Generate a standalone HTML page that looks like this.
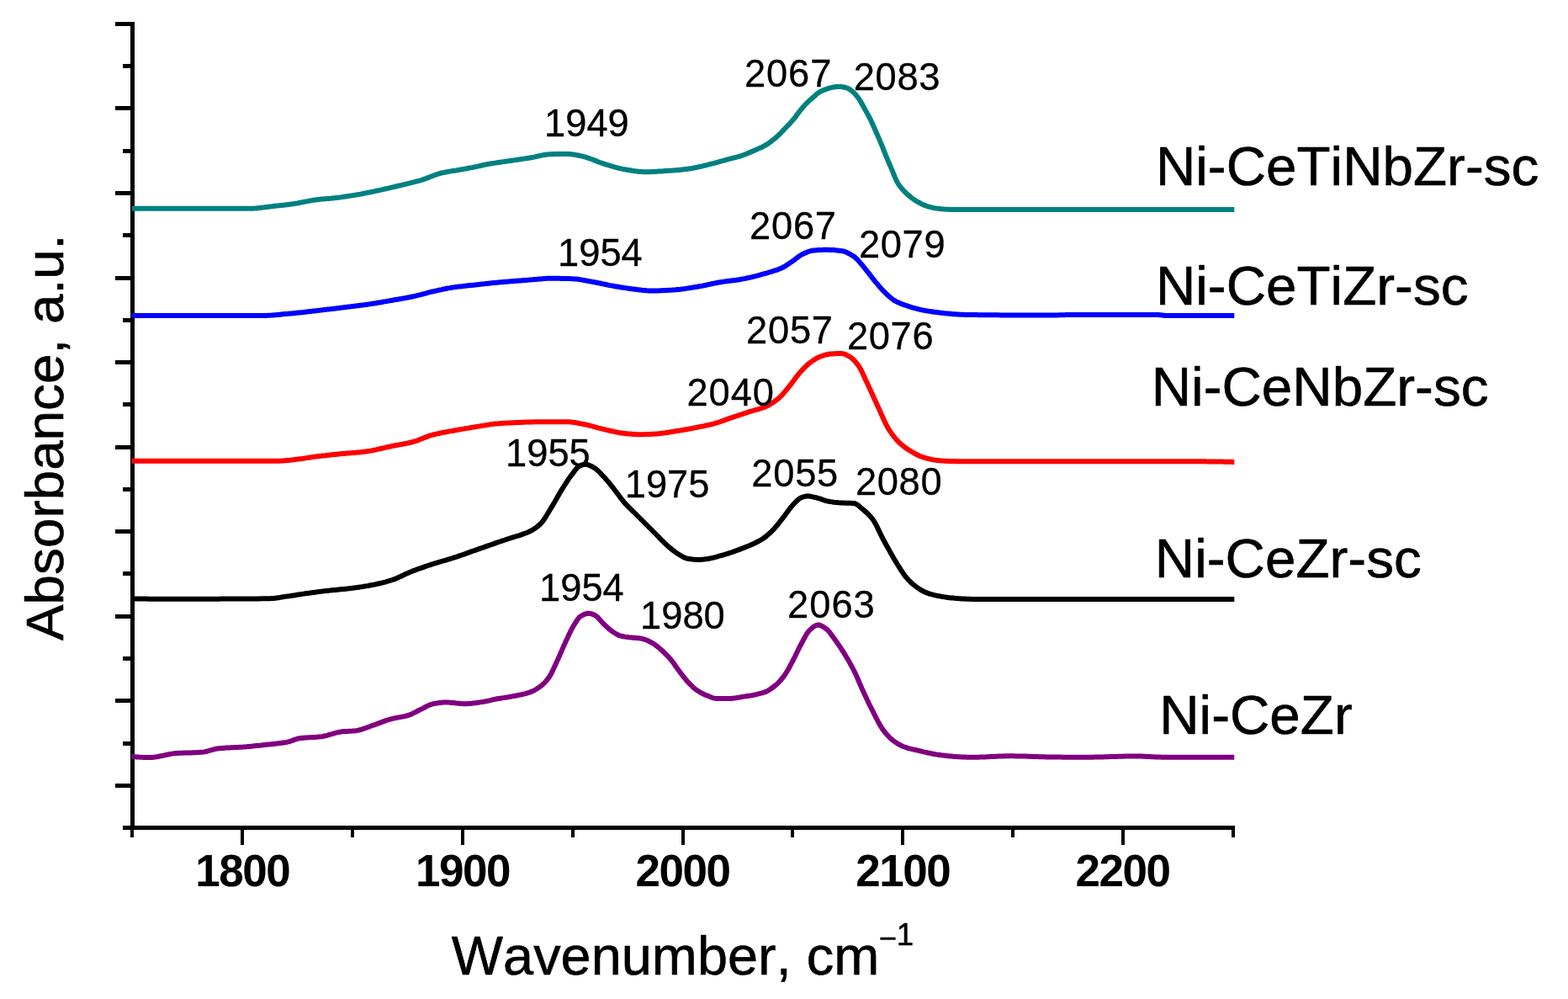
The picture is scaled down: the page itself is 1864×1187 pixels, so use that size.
<!DOCTYPE html>
<html lang="en">
<head>
<meta charset="utf-8">
<title>IR spectra</title>
<style>
html,body{margin:0;padding:0;background:#ffffff;}
body{width:1864px;height:1187px;overflow:hidden;}
svg{display:block;}
text{font-family:"Liberation Sans",sans-serif;fill:#000;font-kerning:none;}
.tick{font-weight:bold;font-size:53px;text-anchor:middle;letter-spacing:-1.5px;}
.pk{font-size:45.3px;stroke:#000;stroke-width:0.3px;stroke-linejoin:round;}
.lab{font-size:65.6px;letter-spacing:0px;stroke:#000;stroke-width:0.6px;stroke-linejoin:round;}
.ttl{font-size:64.9px;stroke:#000;stroke-width:0.6px;stroke-linejoin:round;}
.sup{font-size:36px;letter-spacing:0;}
.curve{fill:none;stroke-width:6;stroke-linejoin:round;stroke-linecap:butt;}
.ax{stroke:#000;stroke-width:5;fill:none;stroke-linecap:butt;}
</style>
</head>
<body>
<svg width="1864" height="1187" viewBox="0 0 1864 1187">
<rect x="0" y="0" width="1864" height="1187" fill="#ffffff"/>
<g class="ax" shape-rendering="crispEdges">
<path d="M157.5 25.8 V986.0"/>
<path d="M155.0 983.5 H1468"/>
<path d="M157.5 28.3 H137"/>
<path d="M157.5 128.5 H137"/>
<path d="M157.5 229.3 H137"/>
<path d="M157.5 330 H137"/>
<path d="M157.5 430.3 H137"/>
<path d="M157.5 531 H137"/>
<path d="M157.5 631.8 H137"/>
<path d="M157.5 732.5 H137"/>
<path d="M157.5 832 H137"/>
<path d="M157.5 933.25 H137"/>
<path d="M157.5 78.3 H145.6"/>
<path d="M157.5 179 H145.6"/>
<path d="M157.5 279.3 H145.6"/>
<path d="M157.5 380.3 H145.6"/>
<path d="M157.5 480.5 H145.6"/>
<path d="M157.5 581.3 H145.6"/>
<path d="M157.5 681.5 H145.6"/>
<path d="M157.5 782.2 H145.6"/>
<path d="M157.5 883.7 H145.6"/>
<path d="M157.5 983.5 H145.6"/>
<path stroke-width="4" d="M288.2 983.5 V1004.3"/>
<path stroke-width="4" d="M550 983.5 V1004.3"/>
<path stroke-width="4" d="M811.5 983.5 V1004.3"/>
<path stroke-width="4" d="M1073.2 983.5 V1004.3"/>
<path stroke-width="4" d="M1334.5 983.5 V1004.3"/>
<path stroke-width="4" d="M157 983.5 V995.2"/>
<path stroke-width="4" d="M419.2 983.5 V995.2"/>
<path stroke-width="4" d="M680.7 983.5 V995.2"/>
<path stroke-width="4" d="M942.3 983.5 V995.2"/>
<path stroke-width="4" d="M1203.8 983.5 V995.2"/>
<path stroke-width="4" d="M1465.5 983.5 V995.2"/>
</g>
<g>
<path class="curve" stroke="#800080" d="M156.7 898.8L158.7 899.0L160.7 899.2L162.7 899.4L164.7 899.6L166.7 899.7L168.7 899.8L170.7 899.9L172.7 900.0L174.7 900.0L176.7 900.0L178.7 900.0L180.7 899.9L182.7 899.7L184.7 899.5L186.7 899.1L188.7 898.8L190.7 898.4L192.7 898.0L194.7 897.6L196.7 897.1L198.7 896.7L200.7 896.3L202.7 895.9L204.7 895.6L206.7 895.3L208.7 895.1L210.7 895.0L212.7 894.8L214.7 894.7L216.7 894.7L218.7 894.6L220.7 894.5L222.7 894.5L224.7 894.4L226.7 894.4L228.7 894.3L230.7 894.2L232.7 894.2L234.7 894.1L236.7 894.0L238.7 893.8L240.7 893.7L242.7 893.4L244.7 893.0L246.7 892.5L248.7 891.9L250.7 891.3L252.7 890.8L254.7 890.2L256.7 889.8L258.7 889.4L260.7 889.2L262.7 889.0L264.7 888.9L266.8 888.7L268.8 888.6L270.8 888.5L272.8 888.4L274.8 888.3L276.8 888.2L278.8 888.1L280.8 888.0L282.8 887.9L284.8 887.8L286.8 887.7L288.8 887.6L290.8 887.4L292.8 887.3L294.8 887.1L296.8 886.9L298.8 886.7L300.8 886.5L302.8 886.3L304.8 886.1L306.8 885.9L308.8 885.7L310.8 885.5L312.8 885.2L314.8 885.0L316.8 884.8L318.8 884.6L320.8 884.4L322.8 884.2L324.8 884.0L326.8 883.8L328.8 883.6L330.8 883.3L332.8 883.1L334.8 882.8L336.8 882.5L338.8 882.2L340.8 881.9L342.8 881.4L344.8 880.8L346.8 880.1L348.8 879.4L350.8 878.7L352.8 878.0L354.8 877.5L356.8 877.1L358.8 876.9L360.8 876.7L362.8 876.5L364.8 876.4L366.8 876.3L368.8 876.2L370.8 876.1L372.8 876.0L374.8 875.9L376.8 875.8L378.8 875.6L380.8 875.4L382.8 875.1L384.8 874.7L386.8 874.3L388.8 873.8L390.8 873.2L392.8 872.6L394.8 872.1L396.8 871.5L398.8 870.9L400.8 870.4L402.8 870.0L404.8 869.6L406.8 869.3L408.8 869.1L410.8 869.0L412.8 868.9L414.8 868.8L416.8 868.7L418.8 868.6L420.8 868.4L422.8 868.2L424.8 867.9L426.8 867.5L428.8 867.0L430.8 866.4L432.8 865.7L434.8 865.0L436.8 864.2L438.8 863.5L440.8 862.7L442.8 862.0L444.8 861.3L446.8 860.6L448.8 859.9L450.8 859.2L452.8 858.4L454.8 857.6L456.8 856.9L458.8 856.2L460.8 855.5L462.8 854.9L464.8 854.3L466.8 853.8L468.8 853.4L470.8 853.0L472.8 852.6L474.8 852.2L476.8 851.9L478.8 851.5L480.8 851.1L482.8 850.6L484.9 850.0L486.9 849.4L488.9 848.6L490.9 847.6L492.9 846.6L494.9 845.6L496.9 844.5L498.9 843.5L500.9 842.6L502.9 841.6L504.9 840.5L506.9 839.4L508.9 838.4L510.9 837.5L512.9 836.8L514.9 836.3L516.9 835.9L518.9 835.6L520.9 835.3L522.9 835.0L524.9 834.8L526.9 834.6L528.9 834.5L530.9 834.5L532.9 834.6L534.9 834.7L536.9 834.9L538.9 835.1L540.9 835.3L542.9 835.6L544.9 835.8L546.9 836.0L548.9 836.1L550.9 836.2L552.9 836.2L554.9 836.2L556.9 836.1L558.9 836.0L560.9 835.8L562.9 835.5L564.9 835.3L566.9 835.0L568.9 834.7L570.9 834.4L572.9 834.1L574.9 833.8L576.9 833.4L578.9 833.0L580.9 832.6L582.9 832.1L584.9 831.6L586.9 831.1L588.9 830.7L590.9 830.3L592.9 830.0L594.9 829.7L596.9 829.4L598.9 829.1L600.9 828.8L602.9 828.5L604.9 828.1L606.9 827.8L608.9 827.4L610.9 827.0L612.9 826.7L614.9 826.3L616.9 825.9L618.9 825.5L620.9 825.0L622.9 824.6L624.9 824.0L626.9 823.5L628.9 822.9L630.9 822.2L632.9 821.3L634.9 820.4L636.9 819.2L638.9 818.0L640.9 816.6L642.9 815.2L644.9 813.5L646.9 811.6L648.9 809.5L650.9 807.1L652.9 804.4L654.9 801.1L656.9 797.1L658.9 792.8L660.9 788.4L662.9 784.1L664.9 779.7L666.9 775.1L668.9 770.4L670.9 765.9L672.9 761.6L674.9 757.3L676.9 753.0L678.9 748.9L680.9 745.1L682.9 741.8L684.9 738.6L686.9 735.6L688.9 733.3L690.9 731.9L692.9 730.8L694.9 729.8L696.9 729.1L698.9 728.8L700.9 728.9L703.0 729.3L705.0 730.1L707.0 731.0L709.0 732.1L711.0 734.0L713.0 736.2L715.0 738.5L717.0 740.7L719.0 742.6L721.0 744.5L723.0 746.4L725.0 748.1L727.0 749.6L729.0 751.0L731.0 752.3L733.0 753.5L735.0 754.6L737.0 755.4L739.0 755.8L741.0 756.2L743.0 756.6L745.0 756.9L747.0 757.1L749.0 757.4L751.0 757.6L753.0 757.8L755.0 758.0L757.0 758.1L759.0 758.3L761.0 758.5L763.0 758.8L765.0 759.3L767.0 760.0L769.0 760.8L771.0 761.7L773.0 762.7L775.0 763.7L777.0 764.9L779.0 766.3L781.0 767.9L783.0 769.5L785.0 771.2L787.0 773.0L789.0 774.8L791.0 776.8L793.0 778.8L795.0 780.9L797.0 783.2L799.0 785.6L801.0 788.3L803.0 791.2L805.0 794.1L807.0 796.8L809.0 799.5L811.0 802.1L813.0 804.7L815.0 807.1L817.0 809.5L819.0 811.6L821.0 813.7L823.0 815.7L825.0 817.5L827.0 819.1L829.0 820.5L831.0 821.8L833.0 823.0L835.0 824.0L837.0 825.0L839.0 825.9L841.0 826.6L843.0 827.5L845.0 828.3L847.0 829.0L849.0 829.6L851.0 829.9L853.0 830.0L855.0 830.0L857.0 830.0L859.0 830.0L861.0 830.0L863.0 830.0L865.0 830.0L867.0 830.0L869.0 830.0L871.0 829.8L873.0 829.6L875.0 829.3L877.0 828.9L879.0 828.6L881.0 828.2L883.0 827.9L885.0 827.6L887.0 827.3L889.0 827.0L891.0 826.7L893.0 826.4L895.0 826.0L897.0 825.6L899.0 825.2L901.0 824.7L903.0 824.2L905.0 823.7L907.0 823.1L909.0 822.4L911.0 821.6L913.0 820.6L915.0 819.4L917.0 818.0L919.0 816.5L921.0 815.0L923.1 813.3L925.1 811.4L927.1 809.3L929.1 807.0L931.1 804.4L933.1 801.7L935.1 798.6L937.1 795.2L939.1 791.5L941.1 787.7L943.1 783.9L945.1 780.0L947.1 775.8L949.1 771.7L951.1 767.7L953.1 764.0L955.1 760.2L957.1 756.5L959.1 753.1L961.1 750.3L963.1 748.2L965.1 746.4L967.1 744.8L969.1 743.5L971.1 742.7L973.1 742.5L975.1 743.0L977.1 743.9L979.1 745.1L981.1 746.5L983.1 747.9L985.1 749.9L987.1 752.4L989.1 755.2L991.1 758.0L993.1 760.8L995.1 763.6L997.1 766.4L999.1 769.4L1001.1 772.5L1003.1 775.6L1005.1 778.9L1007.1 782.2L1009.1 785.6L1011.1 789.2L1013.1 792.9L1015.1 796.7L1017.1 800.8L1019.1 805.3L1021.1 810.0L1023.1 814.7L1025.1 819.2L1027.1 823.6L1029.1 827.8L1031.1 832.1L1033.1 836.2L1035.1 840.3L1037.1 844.2L1039.1 848.1L1041.1 852.1L1043.1 856.0L1045.1 859.7L1047.1 863.2L1049.1 866.3L1051.1 868.9L1053.1 871.4L1055.1 873.7L1057.1 875.8L1059.1 877.7L1061.1 879.4L1063.1 880.9L1065.1 882.3L1067.1 883.6L1069.1 884.8L1071.1 885.8L1073.1 886.8L1075.1 887.5L1077.1 888.2L1079.1 888.8L1081.1 889.4L1083.1 889.9L1085.1 890.3L1087.1 890.8L1089.1 891.2L1091.1 891.7L1093.1 892.1L1095.1 892.6L1097.1 893.1L1099.1 893.6L1101.1 894.0L1103.1 894.5L1105.1 894.9L1107.1 895.3L1109.1 895.7L1111.1 896.0L1113.1 896.4L1115.1 896.7L1117.1 897.0L1119.1 897.3L1121.1 897.5L1123.1 897.8L1125.1 898.1L1127.1 898.3L1129.1 898.5L1131.1 898.6L1133.1 898.8L1135.1 898.9L1137.1 899.1L1139.1 899.2L1141.2 899.3L1143.2 899.4L1145.2 899.5L1147.2 899.6L1149.2 899.7L1151.2 899.8L1153.2 899.8L1155.2 899.8L1157.2 899.8L1159.2 899.8L1161.2 899.7L1163.2 899.7L1165.2 899.6L1167.2 899.5L1169.2 899.4L1171.2 899.4L1173.2 899.3L1175.2 899.2L1177.2 899.1L1179.2 899.0L1181.2 898.9L1183.2 898.8L1185.2 898.7L1187.2 898.6L1189.2 898.5L1191.2 898.5L1193.2 898.4L1195.2 898.3L1197.2 898.3L1199.2 898.3L1201.2 898.3L1203.2 898.3L1205.2 898.3L1207.2 898.4L1209.2 898.4L1211.2 898.4L1213.2 898.5L1215.2 898.5L1217.2 898.6L1219.2 898.6L1221.2 898.7L1223.2 898.8L1225.2 898.8L1227.2 898.9L1229.2 899.0L1231.2 899.0L1233.2 899.1L1235.2 899.2L1237.2 899.2L1239.2 899.3L1241.2 899.3L1243.2 899.4L1245.2 899.4L1247.2 899.5L1249.2 899.5L1251.2 899.5L1253.2 899.5L1255.2 899.6L1257.2 899.6L1259.2 899.6L1261.2 899.6L1263.2 899.7L1265.2 899.7L1267.2 899.7L1269.2 899.7L1271.2 899.7L1273.2 899.7L1275.2 899.8L1277.2 899.8L1279.2 899.8L1281.2 899.8L1283.2 899.8L1285.2 899.8L1287.2 899.8L1289.2 899.8L1291.2 899.8L1293.2 899.8L1295.2 899.7L1297.2 899.7L1299.2 899.7L1301.2 899.6L1303.2 899.6L1305.2 899.5L1307.2 899.5L1309.2 899.4L1311.2 899.4L1313.2 899.3L1315.2 899.3L1317.2 899.2L1319.2 899.1L1321.2 899.1L1323.2 899.0L1325.2 899.0L1327.2 898.9L1329.2 898.8L1331.2 898.8L1333.2 898.7L1335.2 898.7L1337.2 898.6L1339.2 898.6L1341.2 898.6L1343.2 898.5L1345.2 898.5L1347.2 898.5L1349.2 898.5L1351.2 898.5L1353.2 898.5L1355.2 898.6L1357.2 898.6L1359.3 898.7L1361.3 898.8L1363.3 898.9L1365.3 899.0L1367.3 899.1L1369.3 899.2L1371.3 899.3L1373.3 899.4L1375.3 899.5L1377.3 899.6L1379.3 899.6L1381.3 899.7L1383.3 899.8L1385.3 899.8L1387.3 899.8L1389.3 899.8L1391.3 899.8L1393.3 899.8L1395.3 899.8L1397.3 899.8L1399.3 899.8L1401.3 899.8L1403.3 899.8L1405.3 899.8L1407.3 899.8L1409.3 899.8L1411.3 899.8L1413.3 899.8L1415.3 899.8L1417.3 899.8L1419.3 899.8L1421.3 899.8L1423.3 899.8L1425.3 899.8L1427.3 899.8L1429.3 899.8L1431.3 899.8L1433.3 899.8L1435.3 899.8L1437.3 899.8L1439.3 899.8L1441.3 899.8L1443.3 899.8L1445.3 899.8L1447.3 899.8L1449.3 899.8L1451.3 899.8L1453.3 899.8L1455.3 899.8L1457.3 899.8L1459.3 899.8L1461.3 899.8L1463.3 899.8L1465.3 899.8L1467.3 899.8"/>
<path class="curve" stroke="#000000" d="M156.7 711.5L158.7 711.5L160.7 711.5L162.7 711.5L164.7 711.6L166.7 711.6L168.7 711.6L170.7 711.6L172.7 711.6L174.7 711.6L176.7 711.7L178.7 711.7L180.7 711.7L182.7 711.7L184.7 711.7L186.7 711.7L188.7 711.7L190.7 711.7L192.7 711.7L194.7 711.7L196.7 711.7L198.7 711.7L200.7 711.7L202.7 711.7L204.7 711.7L206.7 711.7L208.7 711.7L210.7 711.7L212.7 711.7L214.7 711.7L216.7 711.7L218.7 711.7L220.7 711.7L222.7 711.7L224.7 711.7L226.7 711.7L228.7 711.7L230.7 711.7L232.7 711.7L234.7 711.7L236.7 711.7L238.7 711.7L240.7 711.7L242.7 711.7L244.7 711.7L246.7 711.7L248.7 711.7L250.7 711.7L252.7 711.7L254.7 711.7L256.7 711.7L258.7 711.7L260.7 711.7L262.7 711.6L264.7 711.6L266.8 711.6L268.8 711.6L270.8 711.6L272.8 711.6L274.8 711.6L276.8 711.6L278.8 711.6L280.8 711.6L282.8 711.6L284.8 711.5L286.8 711.5L288.8 711.5L290.8 711.5L292.8 711.5L294.8 711.5L296.8 711.5L298.8 711.4L300.8 711.4L302.8 711.4L304.8 711.4L306.8 711.4L308.8 711.4L310.8 711.3L312.8 711.3L314.8 711.3L316.8 711.3L318.8 711.3L320.8 711.2L322.8 711.1L324.8 711.0L326.8 710.8L328.8 710.5L330.8 710.2L332.8 709.9L334.8 709.5L336.8 709.2L338.8 708.9L340.8 708.6L342.8 708.4L344.8 708.1L346.8 707.8L348.8 707.5L350.8 707.2L352.8 706.8L354.8 706.5L356.8 706.2L358.8 705.9L360.8 705.6L362.8 705.3L364.8 705.0L366.8 704.8L368.8 704.5L370.8 704.2L372.8 703.9L374.8 703.7L376.8 703.4L378.8 703.1L380.8 702.9L382.8 702.6L384.8 702.4L386.8 702.1L388.8 701.9L390.8 701.7L392.8 701.4L394.8 701.2L396.8 701.0L398.8 700.9L400.8 700.7L402.8 700.5L404.8 700.3L406.8 700.1L408.8 699.9L410.8 699.7L412.8 699.5L414.8 699.3L416.8 699.0L418.8 698.8L420.8 698.5L422.8 698.2L424.8 698.0L426.8 697.7L428.8 697.4L430.8 697.1L432.8 696.7L434.8 696.4L436.8 696.1L438.8 695.7L440.8 695.3L442.8 695.0L444.8 694.6L446.8 694.2L448.8 693.7L450.8 693.3L452.8 692.8L454.8 692.3L456.8 691.8L458.8 691.3L460.8 690.7L462.8 690.2L464.8 689.5L466.8 688.9L468.8 688.2L470.8 687.4L472.8 686.5L474.8 685.6L476.8 684.7L478.8 683.7L480.8 682.8L482.8 681.8L484.9 680.9L486.9 680.0L488.9 679.2L490.9 678.4L492.9 677.7L494.9 676.9L496.9 676.2L498.9 675.5L500.9 674.8L502.9 674.1L504.9 673.4L506.9 672.7L508.9 672.0L510.9 671.4L512.9 670.7L514.9 670.0L516.9 669.4L518.9 668.8L520.9 668.2L522.9 667.6L524.9 667.0L526.9 666.4L528.9 665.9L530.9 665.3L532.9 664.7L534.9 664.1L536.9 663.5L538.9 662.9L540.9 662.2L542.9 661.6L544.9 660.9L546.9 660.2L548.9 659.5L550.9 658.8L552.9 658.1L554.9 657.4L556.9 656.6L558.9 655.9L560.9 655.2L562.9 654.5L564.9 653.8L566.9 653.1L568.9 652.4L570.9 651.7L572.9 651.0L574.9 650.3L576.9 649.6L578.9 648.9L580.9 648.2L582.9 647.5L584.9 646.8L586.9 646.1L588.9 645.4L590.9 644.7L592.9 644.0L594.9 643.4L596.9 642.7L598.9 642.0L600.9 641.4L602.9 640.7L604.9 640.0L606.9 639.4L608.9 638.7L610.9 638.1L612.9 637.5L614.9 636.9L616.9 636.3L618.9 635.6L620.9 634.9L622.9 634.2L624.9 633.5L626.9 632.7L628.9 631.8L630.9 630.8L632.9 629.7L634.9 628.5L636.9 627.1L638.9 625.6L640.9 623.9L642.9 622.1L644.9 619.8L646.9 617.0L648.9 613.8L650.9 610.5L652.9 607.2L654.9 603.9L656.9 600.6L658.9 597.2L660.9 593.7L662.9 590.2L664.9 586.7L666.9 583.4L668.9 580.2L670.9 577.0L672.9 573.9L674.9 570.8L676.9 567.9L678.9 565.1L680.9 562.5L682.9 559.7L684.9 557.1L686.9 555.0L688.9 553.7L690.9 552.9L692.9 552.2L694.9 551.8L696.9 551.8L698.9 552.2L700.9 553.0L703.0 553.9L705.0 555.0L707.0 556.2L709.0 557.7L711.0 559.5L713.0 561.5L715.0 563.6L717.0 565.7L719.0 567.8L721.0 570.1L723.0 572.4L725.0 574.9L727.0 577.4L729.0 579.9L731.0 582.5L733.0 585.1L735.0 587.8L737.0 590.5L739.0 593.2L741.0 595.7L743.0 598.0L745.0 600.2L747.0 602.2L749.0 604.2L751.0 606.1L753.0 608.0L755.0 610.0L757.0 612.0L759.0 614.0L761.0 616.0L763.0 618.0L765.0 620.0L767.0 622.0L769.0 624.0L771.0 626.0L773.0 628.0L775.0 630.0L777.0 632.0L779.0 634.0L781.0 636.0L783.0 638.0L785.0 640.1L787.0 642.2L789.0 644.2L791.0 646.1L793.0 647.9L795.0 649.7L797.0 651.4L799.0 653.1L801.0 654.7L803.0 656.2L805.0 657.5L807.0 658.8L809.0 660.0L811.0 661.2L813.0 662.2L815.0 663.1L817.0 663.7L819.0 664.0L821.0 664.3L823.0 664.6L825.0 664.8L827.0 664.9L829.0 665.0L831.0 665.0L833.0 664.9L835.0 664.7L837.0 664.5L839.0 664.2L841.0 664.0L843.0 663.7L845.0 663.3L847.0 662.9L849.0 662.4L851.0 661.9L853.0 661.3L855.0 660.7L857.0 660.2L859.0 659.6L861.0 659.0L863.0 658.4L865.0 657.8L867.0 657.1L869.0 656.5L871.0 655.8L873.0 655.1L875.0 654.3L877.0 653.6L879.0 652.9L881.0 652.1L883.0 651.3L885.0 650.6L887.0 649.8L889.0 649.0L891.0 648.2L893.0 647.3L895.0 646.4L897.0 645.5L899.0 644.5L901.0 643.5L903.0 642.4L905.0 641.2L907.0 640.0L909.0 638.5L911.0 637.0L913.0 635.3L915.0 633.5L917.0 631.7L919.0 629.7L921.0 627.5L923.1 625.1L925.1 622.6L927.1 620.0L929.1 617.4L931.1 614.9L933.1 612.2L935.1 609.5L937.1 606.7L939.1 604.0L941.1 601.6L943.1 599.4L945.1 597.3L947.1 595.2L949.1 593.4L951.1 591.9L953.1 591.0L955.1 590.4L957.1 589.8L959.1 589.5L961.1 589.5L963.1 589.8L965.1 590.1L967.1 590.6L969.1 591.0L971.1 591.5L973.1 592.1L975.1 592.7L977.1 593.4L979.1 594.1L981.1 594.8L983.1 595.3L985.1 595.8L987.1 596.1L989.1 596.4L991.1 596.7L993.1 596.9L995.1 597.1L997.1 597.3L999.1 597.4L1001.1 597.6L1003.1 597.6L1005.1 597.7L1007.1 597.7L1009.1 597.8L1011.1 597.8L1013.1 597.9L1015.1 598.0L1017.1 598.5L1019.1 599.7L1021.1 601.2L1023.1 603.0L1025.1 604.7L1027.1 606.4L1029.1 608.1L1031.1 609.9L1033.1 611.9L1035.1 614.1L1037.1 616.5L1039.1 619.4L1041.1 622.9L1043.1 626.9L1045.1 631.1L1047.1 635.3L1049.1 639.3L1051.1 643.0L1053.1 646.7L1055.1 650.3L1057.1 653.9L1059.1 657.5L1061.1 661.0L1063.1 664.4L1065.1 667.7L1067.1 671.0L1069.1 674.2L1071.1 677.4L1073.1 680.4L1075.1 683.3L1077.1 685.8L1079.1 688.1L1081.1 690.2L1083.1 692.2L1085.1 694.0L1087.1 695.7L1089.1 697.2L1091.1 698.6L1093.1 699.9L1095.1 701.2L1097.1 702.3L1099.1 703.3L1101.1 704.2L1103.1 704.9L1105.1 705.6L1107.1 706.2L1109.1 706.7L1111.1 707.2L1113.1 707.6L1115.1 708.0L1117.1 708.4L1119.1 708.8L1121.1 709.1L1123.1 709.4L1125.1 709.7L1127.1 710.0L1129.1 710.2L1131.1 710.4L1133.1 710.6L1135.1 710.8L1137.1 710.9L1139.1 711.1L1141.2 711.2L1143.2 711.4L1145.2 711.5L1147.2 711.6L1149.2 711.7L1151.2 711.8L1153.2 711.8L1155.2 711.9L1157.2 711.9L1159.2 711.9L1161.2 711.9L1163.2 711.9L1165.2 711.9L1167.2 711.9L1169.2 711.9L1171.2 711.9L1173.2 711.9L1175.2 711.9L1177.2 711.9L1179.2 711.9L1181.2 711.9L1183.2 711.9L1185.2 711.9L1187.2 711.9L1189.2 711.9L1191.2 711.9L1193.2 711.9L1195.2 711.9L1197.2 711.9L1199.2 711.9L1201.2 711.9L1203.2 711.9L1205.2 711.9L1207.2 711.9L1209.2 711.9L1211.2 711.9L1213.2 711.9L1215.2 711.9L1217.2 711.9L1219.2 711.9L1221.2 711.9L1223.2 711.9L1225.2 711.9L1227.2 712.0L1229.2 712.0L1231.2 712.0L1233.2 712.0L1235.2 712.0L1237.2 712.0L1239.2 712.0L1241.2 712.0L1243.2 712.0L1245.2 712.0L1247.2 712.0L1249.2 712.0L1251.2 712.0L1253.2 712.0L1255.2 712.0L1257.2 712.0L1259.2 712.0L1261.2 712.0L1263.2 712.0L1265.2 712.0L1267.2 712.0L1269.2 712.0L1271.2 712.0L1273.2 712.0L1275.2 712.0L1277.2 712.0L1279.2 712.0L1281.2 712.0L1283.2 712.0L1285.2 712.0L1287.2 712.0L1289.2 712.0L1291.2 712.0L1293.2 712.0L1295.2 712.0L1297.2 712.0L1299.2 712.0L1301.2 712.0L1303.2 712.0L1305.2 712.0L1307.2 712.0L1309.2 712.0L1311.2 712.0L1313.2 712.0L1315.2 712.0L1317.2 712.0L1319.2 712.0L1321.2 712.0L1323.2 712.0L1325.2 712.0L1327.2 712.0L1329.2 712.0L1331.2 712.0L1333.2 712.0L1335.2 712.0L1337.2 712.0L1339.2 712.0L1341.2 712.0L1343.2 712.0L1345.2 712.0L1347.2 712.0L1349.2 712.0L1351.2 712.0L1353.2 712.0L1355.2 712.0L1357.2 712.0L1359.3 712.0L1361.3 712.0L1363.3 712.0L1365.3 712.0L1367.3 712.0L1369.3 712.0L1371.3 712.0L1373.3 712.0L1375.3 712.0L1377.3 712.0L1379.3 712.0L1381.3 712.0L1383.3 712.0L1385.3 712.0L1387.3 712.0L1389.3 712.0L1391.3 712.0L1393.3 712.0L1395.3 712.0L1397.3 712.0L1399.3 712.0L1401.3 712.0L1403.3 712.0L1405.3 712.0L1407.3 712.0L1409.3 712.0L1411.3 712.0L1413.3 712.0L1415.3 712.0L1417.3 712.0L1419.3 712.0L1421.3 712.0L1423.3 712.0L1425.3 712.0L1427.3 712.0L1429.3 712.0L1431.3 712.0L1433.3 712.0L1435.3 712.0L1437.3 712.0L1439.3 712.0L1441.3 712.0L1443.3 712.0L1445.3 712.0L1447.3 712.0L1449.3 712.0L1451.3 712.0L1453.3 712.0L1455.3 712.0L1457.3 712.0L1459.3 712.0L1461.3 712.0L1463.3 712.0L1465.3 712.0L1467.3 712.0"/>
<path class="curve" stroke="#ff0000" d="M156.7 547.8L158.7 547.8L160.7 547.8L162.7 547.8L164.7 547.8L166.7 547.8L168.7 547.8L170.7 547.8L172.7 547.8L174.7 547.8L176.7 547.8L178.7 547.8L180.7 547.8L182.7 547.8L184.7 547.8L186.7 547.8L188.7 547.8L190.7 547.8L192.7 547.8L194.7 547.8L196.7 547.8L198.7 547.8L200.7 547.8L202.7 547.8L204.7 547.8L206.7 547.8L208.7 547.8L210.7 547.8L212.7 547.8L214.7 547.8L216.7 547.8L218.7 547.8L220.7 547.8L222.7 547.8L224.7 547.8L226.7 547.8L228.7 547.8L230.7 547.8L232.7 547.8L234.7 547.8L236.7 547.8L238.7 547.8L240.7 547.8L242.7 547.8L244.7 547.8L246.7 547.8L248.7 547.8L250.7 547.8L252.7 547.8L254.7 547.8L256.7 547.8L258.7 547.8L260.7 547.8L262.7 547.8L264.7 547.8L266.8 547.8L268.8 547.8L270.8 547.8L272.8 547.8L274.8 547.8L276.8 547.8L278.8 547.8L280.8 547.8L282.8 547.8L284.8 547.8L286.8 547.8L288.8 547.8L290.8 547.8L292.8 547.8L294.8 547.8L296.8 547.8L298.8 547.8L300.8 547.8L302.8 547.8L304.8 547.8L306.8 547.8L308.8 547.8L310.8 547.8L312.8 547.8L314.8 547.8L316.8 547.8L318.8 547.8L320.8 547.8L322.8 547.8L324.8 547.8L326.8 547.8L328.8 547.8L330.8 547.7L332.8 547.7L334.8 547.6L336.8 547.5L338.8 547.3L340.8 547.1L342.8 546.9L344.8 546.7L346.8 546.4L348.8 546.2L350.8 545.9L352.8 545.7L354.8 545.5L356.8 545.2L358.8 545.0L360.8 544.7L362.8 544.4L364.8 544.1L366.8 543.8L368.8 543.5L370.8 543.2L372.8 542.9L374.8 542.6L376.8 542.3L378.8 542.1L380.8 541.9L382.8 541.6L384.8 541.4L386.8 541.2L388.8 540.9L390.8 540.7L392.8 540.5L394.8 540.3L396.8 540.1L398.8 539.9L400.8 539.7L402.8 539.5L404.8 539.3L406.8 539.1L408.8 538.9L410.8 538.8L412.8 538.6L414.8 538.4L416.8 538.3L418.8 538.1L420.8 537.9L422.8 537.8L424.8 537.6L426.8 537.4L428.8 537.2L430.8 537.0L432.8 536.8L434.8 536.5L436.8 536.2L438.8 535.9L440.8 535.6L442.8 535.2L444.8 534.8L446.8 534.4L448.8 533.9L450.8 533.5L452.8 533.0L454.8 532.5L456.8 532.1L458.8 531.6L460.8 531.1L462.8 530.7L464.8 530.3L466.8 529.9L468.8 529.5L470.8 529.1L472.8 528.8L474.8 528.4L476.8 528.0L478.8 527.7L480.8 527.3L482.8 526.9L484.9 526.5L486.9 526.0L488.9 525.5L490.9 525.0L492.9 524.4L494.9 523.8L496.9 523.1L498.9 522.3L500.9 521.5L502.9 520.7L504.9 519.9L506.9 519.2L508.9 518.4L510.9 517.7L512.9 517.1L514.9 516.5L516.9 516.0L518.9 515.6L520.9 515.1L522.9 514.7L524.9 514.3L526.9 513.9L528.9 513.5L530.9 513.2L532.9 512.8L534.9 512.4L536.9 512.1L538.9 511.7L540.9 511.3L542.9 511.0L544.9 510.6L546.9 510.3L548.9 509.9L550.9 509.6L552.9 509.2L554.9 508.9L556.9 508.6L558.9 508.2L560.9 507.9L562.9 507.6L564.9 507.3L566.9 506.9L568.9 506.6L570.9 506.3L572.9 505.9L574.9 505.6L576.9 505.3L578.9 504.9L580.9 504.6L582.9 504.3L584.9 504.1L586.9 503.8L588.9 503.6L590.9 503.4L592.9 503.3L594.9 503.1L596.9 503.0L598.9 502.8L600.9 502.7L602.9 502.6L604.9 502.5L606.9 502.4L608.9 502.3L610.9 502.2L612.9 502.1L614.9 502.0L616.9 501.9L618.9 501.9L620.9 501.8L622.9 501.7L624.9 501.6L626.9 501.5L628.9 501.5L630.9 501.4L632.9 501.4L634.9 501.3L636.9 501.3L638.9 501.3L640.9 501.3L642.9 501.2L644.9 501.2L646.9 501.2L648.9 501.2L650.9 501.2L652.9 501.2L654.9 501.2L656.9 501.2L658.9 501.2L660.9 501.2L662.9 501.2L664.9 501.2L666.9 501.2L668.9 501.2L670.9 501.2L672.9 501.2L674.9 501.2L676.9 501.3L678.9 501.5L680.9 501.7L682.9 502.0L684.9 502.3L686.9 502.7L688.9 503.1L690.9 503.5L692.9 503.8L694.9 504.2L696.9 504.7L698.9 505.1L700.9 505.7L703.0 506.2L705.0 506.7L707.0 507.3L709.0 507.8L711.0 508.4L713.0 508.9L715.0 509.4L717.0 509.9L719.0 510.3L721.0 510.8L723.0 511.3L725.0 511.7L727.0 512.2L729.0 512.6L731.0 513.1L733.0 513.5L735.0 513.9L737.0 514.2L739.0 514.6L741.0 514.8L743.0 515.0L745.0 515.3L747.0 515.5L749.0 515.6L751.0 515.8L753.0 516.0L755.0 516.1L757.0 516.2L759.0 516.2L761.0 516.2L763.0 516.2L765.0 516.2L767.0 516.1L769.0 516.1L771.0 516.0L773.0 515.9L775.0 515.8L777.0 515.7L779.0 515.6L781.0 515.4L783.0 515.3L785.0 515.1L787.0 514.8L789.0 514.6L791.0 514.3L793.0 514.0L795.0 513.7L797.0 513.3L799.0 513.0L801.0 512.7L803.0 512.3L805.0 512.0L807.0 511.7L809.0 511.4L811.0 511.0L813.0 510.7L815.0 510.3L817.0 510.0L819.0 509.6L821.0 509.2L823.0 508.9L825.0 508.5L827.0 508.1L829.0 507.7L831.0 507.3L833.0 506.9L835.0 506.5L837.0 506.1L839.0 505.6L841.0 505.2L843.0 504.8L845.0 504.3L847.0 503.8L849.0 503.3L851.0 502.7L853.0 502.1L855.0 501.5L857.0 500.8L859.0 500.0L861.0 499.3L863.0 498.6L865.0 497.9L867.0 497.2L869.0 496.5L871.0 495.8L873.0 495.1L875.0 494.5L877.0 493.8L879.0 493.1L881.0 492.5L883.0 491.8L885.0 491.2L887.0 490.5L889.0 489.9L891.0 489.2L893.0 488.6L895.0 488.0L897.0 487.4L899.0 486.8L901.0 486.3L903.0 485.7L905.0 485.1L907.0 484.4L909.0 483.6L911.0 482.8L913.0 481.8L915.0 480.7L917.0 479.5L919.0 478.2L921.0 476.8L923.1 475.3L925.1 473.7L927.1 471.9L929.1 469.9L931.1 467.7L933.1 465.4L935.1 462.9L937.1 460.5L939.1 458.1L941.1 455.4L943.1 452.7L945.1 450.0L947.1 447.3L949.1 444.8L951.1 442.5L953.1 440.3L955.1 438.1L957.1 436.1L959.1 434.1L961.1 432.4L963.1 430.8L965.1 429.4L967.1 428.0L969.1 426.7L971.1 425.5L973.1 424.5L975.1 423.7L977.1 423.0L979.1 422.3L981.1 421.7L983.1 421.2L985.1 420.8L987.1 420.5L989.1 420.4L991.1 420.3L993.1 420.2L995.1 420.1L997.1 420.0L999.1 420.0L1001.1 420.1L1003.1 420.5L1005.1 421.2L1007.1 422.2L1009.1 423.3L1011.1 424.4L1013.1 426.0L1015.1 427.9L1017.1 430.1L1019.1 432.6L1021.1 435.3L1023.1 438.7L1025.1 442.7L1027.1 447.0L1029.1 451.4L1031.1 455.7L1033.1 460.0L1035.1 464.3L1037.1 468.7L1039.1 473.2L1041.1 477.6L1043.1 482.0L1045.1 486.3L1047.1 490.7L1049.1 495.2L1051.1 499.7L1053.1 503.9L1055.1 507.7L1057.1 511.0L1059.1 513.9L1061.1 516.7L1063.1 519.3L1065.1 521.7L1067.1 523.9L1069.1 525.9L1071.1 527.7L1073.1 529.4L1075.1 531.0L1077.1 532.5L1079.1 533.8L1081.1 535.1L1083.1 536.3L1085.1 537.5L1087.1 538.6L1089.1 539.7L1091.1 540.7L1093.1 541.7L1095.1 542.5L1097.1 543.2L1099.1 543.8L1101.1 544.4L1103.1 544.9L1105.1 545.4L1107.1 545.9L1109.1 546.3L1111.1 546.6L1113.1 546.9L1115.1 547.1L1117.1 547.3L1119.1 547.4L1121.1 547.5L1123.1 547.7L1125.1 547.8L1127.1 547.9L1129.1 548.0L1131.1 548.0L1133.1 548.1L1135.1 548.1L1137.1 548.2L1139.1 548.2L1141.2 548.2L1143.2 548.2L1145.2 548.2L1147.2 548.2L1149.2 548.2L1151.2 548.2L1153.2 548.2L1155.2 548.2L1157.2 548.2L1159.2 548.2L1161.2 548.2L1163.2 548.2L1165.2 548.2L1167.2 548.2L1169.2 548.2L1171.2 548.2L1173.2 548.2L1175.2 548.2L1177.2 548.2L1179.2 548.2L1181.2 548.2L1183.2 548.2L1185.2 548.2L1187.2 548.2L1189.2 548.2L1191.2 548.2L1193.2 548.2L1195.2 548.2L1197.2 548.2L1199.2 548.2L1201.2 548.2L1203.2 548.2L1205.2 548.2L1207.2 548.2L1209.2 548.2L1211.2 548.2L1213.2 548.2L1215.2 548.2L1217.2 548.2L1219.2 548.2L1221.2 548.2L1223.2 548.2L1225.2 548.2L1227.2 548.2L1229.2 548.2L1231.2 548.2L1233.2 548.2L1235.2 548.2L1237.2 548.2L1239.2 548.2L1241.2 548.2L1243.2 548.2L1245.2 548.2L1247.2 548.2L1249.2 548.2L1251.2 548.2L1253.2 548.3L1255.2 548.3L1257.2 548.3L1259.2 548.3L1261.2 548.3L1263.2 548.3L1265.2 548.3L1267.2 548.3L1269.2 548.3L1271.2 548.3L1273.2 548.3L1275.2 548.3L1277.2 548.3L1279.2 548.3L1281.2 548.3L1283.2 548.3L1285.2 548.3L1287.2 548.3L1289.2 548.3L1291.2 548.3L1293.2 548.3L1295.2 548.3L1297.2 548.3L1299.2 548.3L1301.2 548.3L1303.2 548.3L1305.2 548.3L1307.2 548.3L1309.2 548.3L1311.2 548.3L1313.2 548.3L1315.2 548.3L1317.2 548.3L1319.2 548.3L1321.2 548.3L1323.2 548.3L1325.2 548.3L1327.2 548.3L1329.2 548.3L1331.2 548.3L1333.2 548.3L1335.2 548.3L1337.2 548.3L1339.2 548.3L1341.2 548.3L1343.2 548.3L1345.2 548.3L1347.2 548.3L1349.2 548.3L1351.2 548.3L1353.2 548.3L1355.2 548.3L1357.2 548.3L1359.3 548.3L1361.3 548.3L1363.3 548.3L1365.3 548.3L1367.3 548.3L1369.3 548.3L1371.3 548.3L1373.3 548.3L1375.3 548.3L1377.3 548.3L1379.3 548.3L1381.3 548.3L1383.3 548.3L1385.3 548.3L1387.3 548.3L1389.3 548.3L1391.3 548.3L1393.3 548.3L1395.3 548.3L1397.3 548.3L1399.3 548.3L1401.3 548.3L1403.3 548.3L1405.3 548.3L1407.3 548.3L1409.3 548.3L1411.3 548.3L1413.3 548.3L1415.3 548.3L1417.3 548.3L1419.3 548.3L1421.3 548.3L1423.3 548.3L1425.3 548.3L1427.3 548.3L1429.3 548.3L1431.3 548.3L1433.3 548.3L1435.3 548.4L1437.3 548.4L1439.3 548.4L1441.3 548.4L1443.3 548.5L1445.3 548.5L1447.3 548.5L1449.3 548.6L1451.3 548.6L1453.3 548.6L1455.3 548.7L1457.3 548.7L1459.3 548.8L1461.3 548.8L1463.3 548.8L1465.3 548.9L1467.3 548.9"/>
<path class="curve" stroke="#0000ff" d="M156.7 375.0L158.7 375.0L160.7 375.0L162.7 375.0L164.7 375.0L166.7 375.0L168.7 375.0L170.7 375.0L172.7 375.0L174.7 375.0L176.7 375.0L178.7 375.0L180.7 375.0L182.7 375.0L184.7 375.0L186.7 375.0L188.7 375.0L190.7 375.0L192.7 375.0L194.7 375.0L196.7 375.0L198.7 375.0L200.7 375.0L202.7 375.0L204.7 375.0L206.7 375.0L208.7 375.0L210.7 375.0L212.7 375.0L214.7 375.0L216.7 375.0L218.7 375.0L220.7 375.0L222.7 375.0L224.7 375.0L226.7 375.0L228.7 375.0L230.7 375.0L232.7 375.0L234.7 375.0L236.7 375.0L238.7 375.0L240.7 375.0L242.7 375.0L244.7 375.0L246.7 375.0L248.7 375.0L250.7 375.0L252.7 375.0L254.7 375.0L256.7 375.0L258.7 375.0L260.7 375.0L262.7 375.0L264.7 375.0L266.8 375.0L268.8 375.0L270.8 375.0L272.8 375.0L274.8 375.0L276.8 375.0L278.8 375.0L280.8 375.0L282.8 375.0L284.8 375.0L286.8 375.0L288.8 375.0L290.8 375.0L292.8 375.0L294.8 375.0L296.8 375.0L298.8 375.0L300.8 375.0L302.8 375.0L304.8 375.0L306.8 375.0L308.8 375.0L310.8 375.0L312.8 375.0L314.8 375.0L316.8 374.9L318.8 374.8L320.8 374.7L322.8 374.6L324.8 374.4L326.8 374.2L328.8 374.1L330.8 373.9L332.8 373.7L334.8 373.5L336.8 373.3L338.8 373.1L340.8 372.9L342.8 372.8L344.8 372.6L346.8 372.4L348.8 372.2L350.8 372.0L352.8 371.8L354.8 371.6L356.8 371.4L358.8 371.2L360.8 371.0L362.8 370.7L364.8 370.5L366.8 370.3L368.8 370.1L370.8 369.8L372.8 369.6L374.8 369.4L376.8 369.1L378.8 368.9L380.8 368.6L382.8 368.4L384.8 368.1L386.8 367.9L388.8 367.6L390.8 367.4L392.8 367.2L394.8 366.9L396.8 366.7L398.8 366.5L400.8 366.2L402.8 366.0L404.8 365.7L406.8 365.5L408.8 365.3L410.8 365.0L412.8 364.8L414.8 364.5L416.8 364.3L418.8 364.0L420.8 363.8L422.8 363.5L424.8 363.3L426.8 363.0L428.8 362.8L430.8 362.5L432.8 362.3L434.8 362.0L436.8 361.7L438.8 361.4L440.8 361.1L442.8 360.8L444.8 360.5L446.8 360.2L448.8 359.8L450.8 359.5L452.8 359.2L454.8 358.8L456.8 358.4L458.8 358.1L460.8 357.7L462.8 357.4L464.8 357.0L466.8 356.7L468.8 356.3L470.8 356.0L472.8 355.7L474.8 355.3L476.8 355.0L478.8 354.6L480.8 354.3L482.8 353.9L484.9 353.5L486.9 353.1L488.9 352.7L490.9 352.3L492.9 351.9L494.9 351.4L496.9 350.9L498.9 350.4L500.9 349.9L502.9 349.3L504.9 348.8L506.9 348.3L508.9 347.7L510.9 347.2L512.9 346.7L514.9 346.3L516.9 345.8L518.9 345.4L520.9 344.9L522.9 344.5L524.9 344.1L526.9 343.6L528.9 343.2L530.9 342.8L532.9 342.4L534.9 342.1L536.9 341.7L538.9 341.4L540.9 341.1L542.9 340.9L544.9 340.6L546.9 340.4L548.9 340.2L550.9 339.9L552.9 339.7L554.9 339.5L556.9 339.3L558.9 339.1L560.9 338.9L562.9 338.7L564.9 338.5L566.9 338.3L568.9 338.1L570.9 337.8L572.9 337.6L574.9 337.4L576.9 337.1L578.9 336.9L580.9 336.7L582.9 336.5L584.9 336.3L586.9 336.1L588.9 335.9L590.9 335.7L592.9 335.5L594.9 335.3L596.9 335.2L598.9 335.0L600.9 334.8L602.9 334.7L604.9 334.5L606.9 334.3L608.9 334.2L610.9 334.0L612.9 333.8L614.9 333.7L616.9 333.5L618.9 333.4L620.9 333.2L622.9 333.0L624.9 332.9L626.9 332.7L628.9 332.6L630.9 332.4L632.9 332.3L634.9 332.1L636.9 331.9L638.9 331.7L640.9 331.5L642.9 331.4L644.9 331.2L646.9 331.0L648.9 330.9L650.9 330.8L652.9 330.8L654.9 330.8L656.9 330.8L658.9 330.8L660.9 330.8L662.9 330.8L664.9 330.8L666.9 330.9L668.9 330.9L670.9 331.0L672.9 331.0L674.9 331.1L676.9 331.1L678.9 331.2L680.9 331.3L682.9 331.4L684.9 331.6L686.9 331.8L688.9 332.1L690.9 332.4L692.9 332.8L694.9 333.1L696.9 333.5L698.9 333.9L700.9 334.3L703.0 334.6L705.0 335.0L707.0 335.3L709.0 335.7L711.0 336.1L713.0 336.5L715.0 337.0L717.0 337.4L719.0 337.8L721.0 338.2L723.0 338.7L725.0 339.1L727.0 339.4L729.0 339.8L731.0 340.2L733.0 340.5L735.0 340.8L737.0 341.2L739.0 341.5L741.0 341.8L743.0 342.1L745.0 342.4L747.0 342.7L749.0 343.0L751.0 343.3L753.0 343.5L755.0 343.7L757.0 344.0L759.0 344.2L761.0 344.4L763.0 344.7L765.0 344.9L767.0 345.1L769.0 345.3L771.0 345.4L773.0 345.5L775.0 345.5L777.0 345.5L779.0 345.5L781.0 345.4L783.0 345.4L785.0 345.3L787.0 345.2L789.0 345.1L791.0 345.0L793.0 344.9L795.0 344.8L797.0 344.7L799.0 344.6L801.0 344.4L803.0 344.3L805.0 344.1L807.0 343.9L809.0 343.7L811.0 343.4L813.0 343.2L815.0 342.9L817.0 342.6L819.0 342.3L821.0 342.0L823.0 341.6L825.0 341.3L827.0 341.0L829.0 340.7L831.0 340.3L833.0 340.0L835.0 339.6L837.0 339.2L839.0 338.8L841.0 338.3L843.0 337.9L845.0 337.5L847.0 337.0L849.0 336.6L851.0 336.2L853.0 335.8L855.0 335.5L857.0 335.2L859.0 334.9L861.0 334.6L863.0 334.3L865.0 334.1L867.0 333.8L869.0 333.6L871.0 333.3L873.0 333.1L875.0 332.8L877.0 332.5L879.0 332.2L881.0 331.8L883.0 331.4L885.0 331.1L887.0 330.6L889.0 330.2L891.0 329.8L893.0 329.3L895.0 328.8L897.0 328.3L899.0 327.8L901.0 327.3L903.0 326.8L905.0 326.2L907.0 325.7L909.0 325.1L911.0 324.6L913.0 324.0L915.0 323.4L917.0 322.8L919.0 322.2L921.0 321.5L923.1 320.8L925.1 320.1L927.1 319.3L929.1 318.4L931.1 317.5L933.1 316.4L935.1 315.1L937.1 313.8L939.1 312.4L941.1 311.0L943.1 309.6L945.1 308.2L947.1 306.7L949.1 305.2L951.1 303.7L953.1 302.5L955.1 301.5L957.1 300.6L959.1 299.8L961.1 299.0L963.1 298.4L965.1 297.9L967.1 297.5L969.1 297.4L971.1 297.2L973.1 297.1L975.1 297.0L977.1 296.9L979.1 296.8L981.1 296.8L983.1 296.8L985.1 296.8L987.1 296.9L989.1 297.0L991.1 297.1L993.1 297.3L995.1 297.4L997.1 297.7L999.1 297.9L1001.1 298.2L1003.1 298.7L1005.1 299.3L1007.1 300.2L1009.1 301.2L1011.1 302.3L1013.1 303.4L1015.1 304.7L1017.1 306.3L1019.1 308.2L1021.1 310.4L1023.1 312.8L1025.1 315.2L1027.1 317.7L1029.1 320.1L1031.1 322.6L1033.1 325.1L1035.1 327.8L1037.1 330.4L1039.1 332.9L1041.1 335.3L1043.1 337.7L1045.1 340.1L1047.1 342.4L1049.1 344.6L1051.1 346.6L1053.1 348.6L1055.1 350.5L1057.1 352.3L1059.1 354.0L1061.1 355.6L1063.1 357.0L1065.1 358.1L1067.1 359.1L1069.1 360.0L1071.1 360.9L1073.1 361.6L1075.1 362.3L1077.1 363.0L1079.1 363.7L1081.1 364.4L1083.1 365.0L1085.1 365.6L1087.1 366.2L1089.1 366.7L1091.1 367.2L1093.1 367.7L1095.1 368.1L1097.1 368.5L1099.1 368.9L1101.1 369.3L1103.1 369.6L1105.1 369.9L1107.1 370.2L1109.1 370.5L1111.1 370.8L1113.1 371.0L1115.1 371.3L1117.1 371.5L1119.1 371.7L1121.1 372.0L1123.1 372.2L1125.1 372.4L1127.1 372.6L1129.1 372.8L1131.1 373.0L1133.1 373.2L1135.1 373.3L1137.1 373.5L1139.1 373.6L1141.2 373.7L1143.2 373.8L1145.2 373.8L1147.2 373.9L1149.2 373.9L1151.2 373.9L1153.2 374.0L1155.2 374.0L1157.2 374.1L1159.2 374.1L1161.2 374.1L1163.2 374.2L1165.2 374.2L1167.2 374.2L1169.2 374.2L1171.2 374.3L1173.2 374.3L1175.2 374.3L1177.2 374.3L1179.2 374.3L1181.2 374.3L1183.2 374.3L1185.2 374.3L1187.2 374.3L1189.2 374.4L1191.2 374.4L1193.2 374.4L1195.2 374.4L1197.2 374.4L1199.2 374.4L1201.2 374.4L1203.2 374.4L1205.2 374.4L1207.2 374.4L1209.2 374.4L1211.2 374.4L1213.2 374.4L1215.2 374.4L1217.2 374.5L1219.2 374.5L1221.2 374.5L1223.2 374.5L1225.2 374.5L1227.2 374.5L1229.2 374.5L1231.2 374.5L1233.2 374.5L1235.2 374.5L1237.2 374.5L1239.2 374.5L1241.2 374.5L1243.2 374.5L1245.2 374.5L1247.2 374.5L1249.2 374.5L1251.2 374.5L1253.2 374.5L1255.2 374.4L1257.2 374.4L1259.2 374.3L1261.2 374.3L1263.2 374.2L1265.2 374.2L1267.2 374.1L1269.2 374.1L1271.2 374.0L1273.2 374.0L1275.2 374.0L1277.2 374.0L1279.2 374.0L1281.2 374.0L1283.2 374.0L1285.2 374.0L1287.2 374.0L1289.2 374.0L1291.2 374.0L1293.2 374.0L1295.2 374.0L1297.2 374.0L1299.2 374.0L1301.2 374.0L1303.2 374.0L1305.2 374.0L1307.2 374.0L1309.2 374.0L1311.2 374.0L1313.2 374.0L1315.2 374.0L1317.2 374.0L1319.2 374.0L1321.2 374.0L1323.2 374.0L1325.2 374.0L1327.2 374.0L1329.2 374.0L1331.2 374.0L1333.2 374.0L1335.2 374.0L1337.2 374.0L1339.2 374.0L1341.2 374.0L1343.2 374.0L1345.2 374.0L1347.2 374.0L1349.2 374.0L1351.2 374.0L1353.2 374.0L1355.2 374.0L1357.2 374.0L1359.3 374.0L1361.3 374.0L1363.3 374.0L1365.3 374.0L1367.3 374.0L1369.3 374.0L1371.3 374.0L1373.3 374.0L1375.3 374.0L1377.3 374.1L1379.3 374.3L1381.3 374.5L1383.3 374.7L1385.3 374.9L1387.3 375.0L1389.3 375.0L1391.3 375.0L1393.3 375.0L1395.3 375.0L1397.3 375.0L1399.3 375.0L1401.3 375.0L1403.3 375.0L1405.3 375.0L1407.3 375.0L1409.3 375.0L1411.3 375.0L1413.3 375.0L1415.3 375.0L1417.3 375.0L1419.3 375.0L1421.3 375.0L1423.3 375.0L1425.3 375.0L1427.3 375.0L1429.3 375.0L1431.3 375.0L1433.3 375.0L1435.3 375.0L1437.3 375.0L1439.3 375.0L1441.3 375.0L1443.3 375.0L1445.3 375.0L1447.3 375.0L1449.3 375.0L1451.3 375.0L1453.3 375.0L1455.3 375.0L1457.3 375.0L1459.3 375.0L1461.3 375.0L1463.3 375.0L1465.3 375.0L1467.3 375.0"/>
<path class="curve" stroke="#008080" d="M156.7 247.8L158.7 247.8L160.7 247.8L162.7 247.8L164.7 247.8L166.7 247.8L168.7 247.8L170.7 247.8L172.7 247.8L174.7 247.8L176.7 247.8L178.7 247.8L180.7 247.8L182.7 247.8L184.7 247.8L186.7 247.8L188.7 247.8L190.7 247.8L192.7 247.8L194.7 247.8L196.7 247.8L198.7 247.8L200.7 247.8L202.7 247.8L204.7 247.8L206.7 247.8L208.7 247.8L210.7 247.8L212.7 247.8L214.7 247.8L216.7 247.8L218.7 247.8L220.7 247.8L222.7 247.8L224.7 247.8L226.7 247.8L228.7 247.8L230.7 247.8L232.7 247.8L234.7 247.8L236.7 247.8L238.7 247.8L240.7 247.8L242.7 247.8L244.7 247.8L246.7 247.8L248.7 247.8L250.7 247.8L252.7 247.8L254.7 247.8L256.7 247.8L258.7 247.8L260.7 247.8L262.7 247.8L264.7 247.8L266.8 247.8L268.8 247.8L270.8 247.8L272.8 247.8L274.8 247.8L276.8 247.8L278.8 247.8L280.8 247.8L282.8 247.8L284.8 247.8L286.8 247.8L288.8 247.8L290.8 247.8L292.8 247.8L294.8 247.8L296.8 247.8L298.8 247.7L300.8 247.7L302.8 247.6L304.8 247.4L306.8 247.2L308.8 247.0L310.8 246.8L312.8 246.6L314.8 246.3L316.8 246.0L318.8 245.8L320.8 245.5L322.8 245.3L324.8 245.0L326.8 244.8L328.8 244.6L330.8 244.4L332.8 244.1L334.8 243.9L336.8 243.7L338.8 243.5L340.8 243.2L342.8 243.0L344.8 242.7L346.8 242.4L348.8 242.2L350.8 241.9L352.8 241.6L354.8 241.2L356.8 240.8L358.8 240.4L360.8 240.0L362.8 239.6L364.8 239.2L366.8 238.9L368.8 238.5L370.8 238.1L372.8 237.8L374.8 237.5L376.8 237.3L378.8 237.1L380.8 236.8L382.8 236.6L384.8 236.5L386.8 236.3L388.8 236.1L390.8 235.9L392.8 235.8L394.8 235.6L396.8 235.4L398.8 235.1L400.8 234.9L402.8 234.7L404.8 234.4L406.8 234.1L408.8 233.8L410.8 233.5L412.8 233.2L414.8 232.9L416.8 232.6L418.8 232.3L420.8 232.0L422.8 231.6L424.8 231.3L426.8 230.9L428.8 230.6L430.8 230.2L432.8 229.8L434.8 229.4L436.8 229.0L438.8 228.6L440.8 228.2L442.8 227.8L444.8 227.4L446.8 226.9L448.8 226.5L450.8 226.1L452.8 225.6L454.8 225.2L456.8 224.7L458.8 224.3L460.8 223.8L462.8 223.4L464.8 222.9L466.8 222.4L468.8 222.0L470.8 221.5L472.8 221.0L474.8 220.5L476.8 220.1L478.8 219.6L480.8 219.1L482.8 218.6L484.9 218.2L486.9 217.7L488.9 217.2L490.9 216.7L492.9 216.2L494.9 215.7L496.9 215.1L498.9 214.6L500.9 214.0L502.9 213.3L504.9 212.6L506.9 211.9L508.9 211.1L510.9 210.3L512.9 209.5L514.9 208.8L516.9 208.0L518.9 207.3L520.9 206.6L522.9 206.0L524.9 205.5L526.9 205.1L528.9 204.7L530.9 204.3L532.9 204.0L534.9 203.6L536.9 203.3L538.9 203.0L540.9 202.7L542.9 202.4L544.9 202.0L546.9 201.7L548.9 201.3L550.9 200.9L552.9 200.6L554.9 200.2L556.9 199.8L558.9 199.4L560.9 199.1L562.9 198.7L564.9 198.3L566.9 197.9L568.9 197.4L570.9 197.0L572.9 196.5L574.9 196.0L576.9 195.6L578.9 195.2L580.9 194.8L582.9 194.5L584.9 194.2L586.9 193.9L588.9 193.6L590.9 193.3L592.9 193.0L594.9 192.7L596.9 192.4L598.9 192.1L600.9 191.8L602.9 191.6L604.9 191.3L606.9 191.0L608.9 190.7L610.9 190.4L612.9 190.1L614.9 189.8L616.9 189.5L618.9 189.2L620.9 188.9L622.9 188.6L624.9 188.3L626.9 188.0L628.9 187.7L630.9 187.3L632.9 187.0L634.9 186.6L636.9 186.1L638.9 185.7L640.9 185.2L642.9 184.8L644.9 184.4L646.9 184.0L648.9 183.7L650.9 183.5L652.9 183.3L654.9 183.2L656.9 183.2L658.9 183.1L660.9 183.1L662.9 183.1L664.9 183.1L666.9 183.0L668.9 183.0L670.9 183.0L672.9 183.0L674.9 183.0L676.9 183.1L678.9 183.2L680.9 183.5L682.9 183.8L684.9 184.1L686.9 184.5L688.9 185.0L690.9 185.4L692.9 185.8L694.9 186.3L696.9 186.9L698.9 187.6L700.9 188.3L703.0 189.0L705.0 189.8L707.0 190.6L709.0 191.4L711.0 192.2L713.0 193.0L715.0 193.7L717.0 194.3L719.0 194.9L721.0 195.6L723.0 196.2L725.0 196.8L727.0 197.4L729.0 198.0L731.0 198.6L733.0 199.1L735.0 199.7L737.0 200.1L739.0 200.6L741.0 201.0L743.0 201.3L745.0 201.7L747.0 202.0L749.0 202.3L751.0 202.7L753.0 203.0L755.0 203.3L757.0 203.5L759.0 203.8L761.0 204.0L763.0 204.1L765.0 204.2L767.0 204.2L769.0 204.2L771.0 204.2L773.0 204.2L775.0 204.1L777.0 204.0L779.0 203.9L781.0 203.8L783.0 203.6L785.0 203.5L787.0 203.4L789.0 203.2L791.0 203.1L793.0 203.0L795.0 202.8L797.0 202.7L799.0 202.6L801.0 202.4L803.0 202.2L805.0 202.1L807.0 201.9L809.0 201.7L811.0 201.5L813.0 201.3L815.0 201.1L817.0 200.8L819.0 200.5L821.0 200.2L823.0 199.9L825.0 199.5L827.0 199.1L829.0 198.7L831.0 198.2L833.0 197.8L835.0 197.3L837.0 196.8L839.0 196.3L841.0 195.9L843.0 195.4L845.0 194.9L847.0 194.4L849.0 193.9L851.0 193.3L853.0 192.8L855.0 192.2L857.0 191.6L859.0 191.1L861.0 190.5L863.0 190.0L865.0 189.4L867.0 188.9L869.0 188.4L871.0 187.9L873.0 187.4L875.0 186.9L877.0 186.4L879.0 185.8L881.0 185.2L883.0 184.5L885.0 183.7L887.0 183.0L889.0 182.1L891.0 181.3L893.0 180.4L895.0 179.6L897.0 178.7L899.0 177.8L901.0 177.0L903.0 176.1L905.0 175.2L907.0 174.2L909.0 173.1L911.0 172.0L913.0 170.7L915.0 169.3L917.0 167.8L919.0 166.2L921.0 164.6L923.1 162.9L925.1 161.0L927.1 159.1L929.1 157.0L931.1 154.9L933.1 152.8L935.1 150.7L937.1 148.6L939.1 146.5L941.1 144.3L943.1 142.0L945.1 139.6L947.1 136.9L949.1 134.1L951.1 131.5L953.1 129.0L955.1 126.7L957.1 124.5L959.1 122.5L961.1 120.6L963.1 118.7L965.1 116.9L967.1 115.2L969.1 113.4L971.1 111.6L973.1 110.1L975.1 108.9L977.1 107.9L979.1 107.0L981.1 106.3L983.1 105.6L985.1 104.9L987.1 104.4L989.1 103.9L991.1 103.5L993.1 103.2L995.1 103.0L997.1 102.9L999.1 103.0L1001.1 103.2L1003.1 103.5L1005.1 104.0L1007.1 104.7L1009.1 105.6L1011.1 106.9L1013.1 108.5L1015.1 110.2L1017.1 112.3L1019.1 114.8L1021.1 117.5L1023.1 120.7L1025.1 124.2L1027.1 127.9L1029.1 131.5L1031.1 135.1L1033.1 138.8L1035.1 142.7L1037.1 147.0L1039.1 151.4L1041.1 156.0L1043.1 160.5L1045.1 165.1L1047.1 169.8L1049.1 174.7L1051.1 179.9L1053.1 184.9L1055.1 189.7L1057.1 194.3L1059.1 198.9L1061.1 203.6L1063.1 208.6L1065.1 213.4L1067.1 217.3L1069.1 220.3L1071.1 222.9L1073.1 225.2L1075.1 227.4L1077.1 229.4L1079.1 231.2L1081.1 232.9L1083.1 234.6L1085.1 236.1L1087.1 237.5L1089.1 238.8L1091.1 239.9L1093.1 241.0L1095.1 242.1L1097.1 243.1L1099.1 243.9L1101.1 244.7L1103.1 245.3L1105.1 245.9L1107.1 246.4L1109.1 246.9L1111.1 247.3L1113.1 247.6L1115.1 247.9L1117.1 248.1L1119.1 248.3L1121.1 248.4L1123.1 248.6L1125.1 248.7L1127.1 248.8L1129.1 248.9L1131.1 248.9L1133.1 248.9L1135.1 248.9L1137.1 248.9L1139.1 248.9L1141.2 248.9L1143.2 248.9L1145.2 248.9L1147.2 248.9L1149.2 248.9L1151.2 248.9L1153.2 248.9L1155.2 248.9L1157.2 248.9L1159.2 248.9L1161.2 248.9L1163.2 249.0L1165.2 249.0L1167.2 249.0L1169.2 249.0L1171.2 249.0L1173.2 249.0L1175.2 249.0L1177.2 249.0L1179.2 249.0L1181.2 249.0L1183.2 249.0L1185.2 249.0L1187.2 249.0L1189.2 249.0L1191.2 249.0L1193.2 249.0L1195.2 249.0L1197.2 249.0L1199.2 249.0L1201.2 249.0L1203.2 249.0L1205.2 249.0L1207.2 249.0L1209.2 249.0L1211.2 249.0L1213.2 249.0L1215.2 249.0L1217.2 249.0L1219.2 249.0L1221.2 249.0L1223.2 249.0L1225.2 249.0L1227.2 249.0L1229.2 249.0L1231.2 249.0L1233.2 249.0L1235.2 249.0L1237.2 249.0L1239.2 249.0L1241.2 249.0L1243.2 249.0L1245.2 249.0L1247.2 249.0L1249.2 249.0L1251.2 249.0L1253.2 249.0L1255.2 249.0L1257.2 249.0L1259.2 249.0L1261.2 249.0L1263.2 249.0L1265.2 249.0L1267.2 249.0L1269.2 249.0L1271.2 249.0L1273.2 249.0L1275.2 249.0L1277.2 249.0L1279.2 249.0L1281.2 249.0L1283.2 249.0L1285.2 249.0L1287.2 249.0L1289.2 249.0L1291.2 249.0L1293.2 249.0L1295.2 249.0L1297.2 249.0L1299.2 249.0L1301.2 249.0L1303.2 249.0L1305.2 249.0L1307.2 249.0L1309.2 249.0L1311.2 249.0L1313.2 249.0L1315.2 249.0L1317.2 249.0L1319.2 249.0L1321.2 249.0L1323.2 249.0L1325.2 249.0L1327.2 249.0L1329.2 249.0L1331.2 249.0L1333.2 249.0L1335.2 249.0L1337.2 249.0L1339.2 249.0L1341.2 249.0L1343.2 249.0L1345.2 249.0L1347.2 249.0L1349.2 249.0L1351.2 249.0L1353.2 249.0L1355.2 249.0L1357.2 249.0L1359.3 249.0L1361.3 249.0L1363.3 249.0L1365.3 249.0L1367.3 249.0L1369.3 249.0L1371.3 249.0L1373.3 249.0L1375.3 249.0L1377.3 249.0L1379.3 249.0L1381.3 249.0L1383.3 249.0L1385.3 249.0L1387.3 249.0L1389.3 249.0L1391.3 249.0L1393.3 249.0L1395.3 249.0L1397.3 249.0L1399.3 249.0L1401.3 249.0L1403.3 249.0L1405.3 249.0L1407.3 249.0L1409.3 249.0L1411.3 249.0L1413.3 249.0L1415.3 249.0L1417.3 249.0L1419.3 249.0L1421.3 249.0L1423.3 249.0L1425.3 249.0L1427.3 249.0L1429.3 249.0L1431.3 249.0L1433.3 249.0L1435.3 249.0L1437.3 249.0L1439.3 249.0L1441.3 249.0L1443.3 249.0L1445.3 249.0L1447.3 249.0L1449.3 249.0L1451.3 249.0L1453.3 249.0L1455.3 249.0L1457.3 249.0L1459.3 249.0L1461.3 249.0L1463.3 249.0L1465.3 249.0L1467.3 249.0"/>
</g>
<g>
<text class="tick" x="288.2" y="1053.4">1800</text>
<text class="tick" x="550" y="1053.4">1900</text>
<text class="tick" x="811.5" y="1053.4">2000</text>
<text class="tick" x="1073.2" y="1053.4">2100</text>
<text class="tick" x="1334.5" y="1053.4">2200</text>
</g>
<g>
<text class="pk" x="647" y="161.7">1949</text>
<text class="pk" x="885" y="102.8" style="letter-spacing:0.85px">2067</text>
<text class="pk" x="1014.7" y="106.9" style="letter-spacing:0.7px">2083</text>
<text class="pk" x="663" y="315.8">1954</text>
<text class="pk" x="891" y="283.5" style="letter-spacing:0.75px">2067</text>
<text class="pk" x="1021" y="306" style="letter-spacing:0.6px">2079</text>
<text class="pk" x="887" y="408" style="letter-spacing:0.75px">2057</text>
<text class="pk" x="1007" y="414.8" style="letter-spacing:0.6px">2076</text>
<text class="pk" x="816.5" y="481.8" style="letter-spacing:0.9px">2040</text>
<text class="pk" x="601" y="553.7">1955</text>
<text class="pk" x="742.7" y="590.5">1975</text>
<text class="pk" x="893.3" y="577.8" style="letter-spacing:0.75px">2055</text>
<text class="pk" x="1017" y="587.6" style="letter-spacing:0.6px">2080</text>
<text class="pk" x="641" y="713.5">1954</text>
<text class="pk" x="761" y="747.3">1980</text>
<text class="pk" x="936" y="733.7" style="letter-spacing:1.0px">2063</text>
</g>
<g>
<text class="lab" x="1373.9" y="219.8">Ni-CeTiNbZr-sc</text>
<text class="lab" x="1373.9" y="361.7">Ni-CeTiZr-sc</text>
<text class="lab" x="1368.7" y="481.7">Ni-CeNbZr-sc</text>
<text class="lab" x="1372.8" y="686.0">Ni-CeZr-sc</text>
<text class="lab" x="1378.2" y="871.5">Ni-CeZr</text>
</g>
<text class="ttl" x="536.8" y="1157.8" style="letter-spacing:0px">Wavenumber, cm<tspan class="sup" dx="-0.2" dy="-30.9">−</tspan><tspan class="sup" dy="-3.5">1</tspan></text>
<text class="ttl" transform="translate(74.8 761) rotate(-90)" x="0" y="0" style="font-size:63.8px;letter-spacing:0px">Absorbance, a.u.</text>
</svg>
</body>
</html>
